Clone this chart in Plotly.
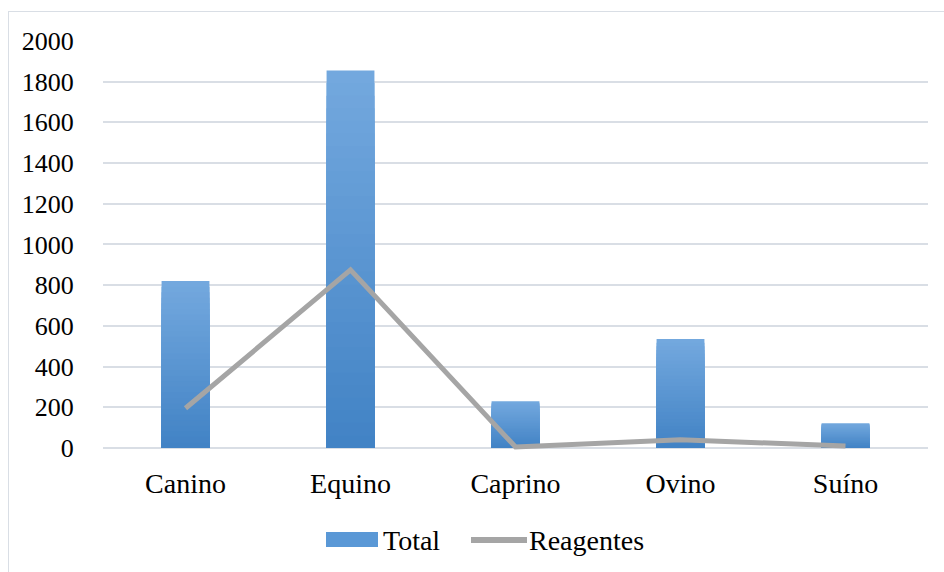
import plotly.graph_objects as go

# Data
categories = ["Canino", "Equino", "Caprino", "Ovino", "Suíno"]
total = [820, 1855, 230, 535, 122]
reagentes = [195, 875, 5, 40, 10]
y_ticks = [0, 200, 400, 600, 800, 1000, 1200, 1400, 1600, 1800, 2000]

FONT = "Times New Roman, Times, serif"
GRID = "#D9DEE5"
TOP_RGB = (0x73, 0xA8, 0xDE)
BOT_RGB = (0x42, 0x83, 0xC5)
N_STEPS = 30


def mix(a, b, t):
    return "rgb({},{},{})".format(*(round(a[i] + (b[i] - a[i]) * t) for i in range(3)))


fig = go.Figure()

# Vertical gradient bars: overlaid bars of shrinking height, light on top, dark at the base
for k in range(N_STEPS):
    frac = (N_STEPS - k) / N_STEPS
    fig.add_trace(go.Bar(
        x=categories,
        y=[v * frac for v in total],
        marker=dict(color=mix(TOP_RGB, BOT_RGB, k / (N_STEPS - 1)), line=dict(width=0)),
        showlegend=False,
        hoverinfo="skip",
    ))

fig.add_trace(go.Scatter(
    x=categories,
    y=reagentes,
    mode="lines",
    line=dict(color="#A5A5A5", width=5),
    showlegend=False,
    hoverinfo="skip",
))

# Plot area: x 103..928 px, y 41..450 px
L, R, T, B = 103, 16, 41, 122
W, H = 944, 572
pw, ph = W - L - R, H - T - B


def px_x(x):
    return (x - L) / pw


def px_y(y):
    return (H - B - y) / ph


def box(x, y, w, h, fill, border=None):
    return dict(text=" ", xref="paper", yref="paper", x=px_x(x), y=px_y(y),
                xanchor="left", yanchor="top", showarrow=False,
                width=w, height=h, borderpad=0,
                bgcolor=fill, bordercolor=border or "rgba(0,0,0,0)",
                borderwidth=1 if border else 0, font=dict(size=4))


annotations = [
    # outer chart border
    box(8, 11, 960, 600, "rgba(0,0,0,0)", "#D9DEE5"),
    # legend: Total
    box(326, 532, 52, 15, "#5A98D6"),
    dict(text="Total", xref="paper", yref="paper", x=px_x(381), y=px_y(540),
         xanchor="left", yanchor="middle", showarrow=False,
         font=dict(family=FONT, size=28, color="#000000")),
    # legend: Reagentes
    box(471, 537, 56, 6, "#A5A5A5"),
    dict(text="Reagentes", xref="paper", yref="paper", x=px_x(527), y=px_y(540),
         xanchor="left", yanchor="middle", showarrow=False,
         font=dict(family=FONT, size=28, color="#000000")),
]

fig.update_layout(
    width=W,
    height=H,
    margin=dict(l=L, r=R, t=T, b=B, pad=0),
    paper_bgcolor="white",
    plot_bgcolor="white",
    barmode="overlay",
    bargap=0.71,
    showlegend=False,
    annotations=annotations,
    font=dict(family=FONT, color="#000000"),
)

fig.update_xaxes(
    showgrid=False,
    showline=False,
    zeroline=False,
    ticks="outside",
    ticklen=8,
    tickcolor="white",
    tickfont=dict(family=FONT, size=28, color="#000000"),
)

fig.update_yaxes(
    range=[-10, 2000],
    tickvals=y_ticks,
    ticktext=[str(v) for v in y_ticks],
    showgrid=True,
    gridcolor=GRID,
    gridwidth=1.5,
    zeroline=False,
    showline=False,
    ticks="outside",
    ticklen=23,
    tickcolor="white",
    tickfont=dict(family=FONT, size=26, color="#000000"),
)

fig.write_html("out.html")
